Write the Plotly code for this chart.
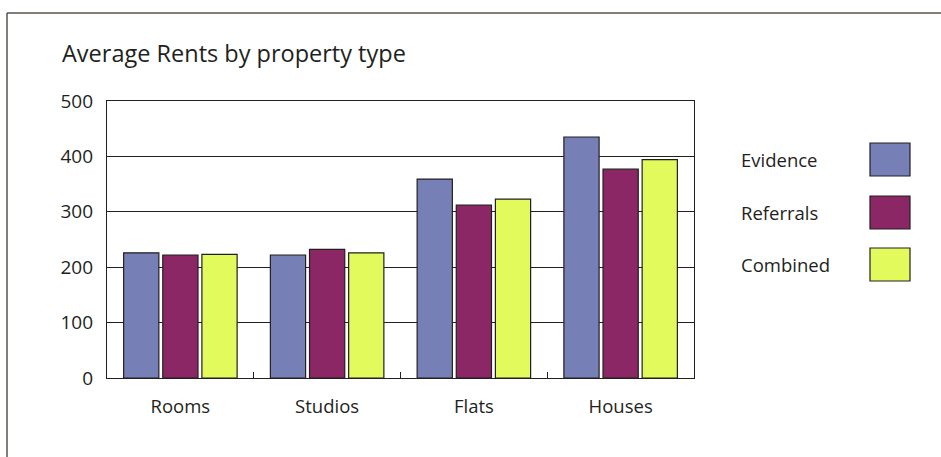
import plotly.graph_objects as go

# Average rents (per category) for each source of data
categories = ["Rooms", "Studios", "Flats", "Houses"]
evidence = [226, 222, 359, 435]
referrals = [222, 232, 312, 377]
combined = [223, 226, 323, 394]

series_names = ["Evidence", "Referrals", "Combined"]
series_values = [evidence, referrals, combined]
series_colors = ["#7680b6", "#8b2765", "#e2fa5c"]

y_ticks = [0, 100, 200, 300, 400, 500]

W, H = 941, 457
L, R, T, B = 107, 247, 101, 79
INK = "#231f20"
FONT = "Open Sans"
LABEL_SIZE = 18.5

def px_to_paper_x(px):
    return (px - L) / (W - L - R)

def px_to_paper_y(py):
    return (H - B - py) / (H - T - B)

fig = go.Figure()
for name, vals, col in zip(series_names, series_values, series_colors):
    fig.add_trace(go.Bar(
        x=categories, y=vals, name=name,
        marker=dict(color=col, line=dict(color=INK, width=1.2)),
        showlegend=False,
    ))

shapes = []
annotations = []

# Outer frame: top and left rules
shapes.append(dict(type="line", xref="paper", yref="paper",
                   x0=px_to_paper_x(7), x1=px_to_paper_x(W + 5),
                   y0=px_to_paper_y(13), y1=px_to_paper_y(13),
                   line=dict(color="#5a534c", width=1.5)))
shapes.append(dict(type="line", xref="paper", yref="paper",
                   x0=px_to_paper_x(7), x1=px_to_paper_x(7),
                   y0=px_to_paper_y(13), y1=px_to_paper_y(H + 5),
                   line=dict(color="#5a534c", width=1.5)))

# Key on the right: label text followed by a colour swatch
key_rows = [159, 212, 264]
for name, col, cy in zip(series_names, series_colors, key_rows):
    annotations.append(dict(xref="paper", yref="paper",
                            x=px_to_paper_x(739), y=px_to_paper_y(cy),
                            xanchor="left", yanchor="middle", showarrow=False,
                            text=name, font=dict(family=FONT, size=LABEL_SIZE, color=INK)))
    shapes.append(dict(type="rect", xref="paper", yref="paper",
                       x0=px_to_paper_x(870), x1=px_to_paper_x(910),
                       y0=px_to_paper_y(cy - 16), y1=px_to_paper_y(cy + 17),
                       fillcolor=col, line=dict(color=INK, width=1.2)))

fig.update_layout(
    width=W, height=H,
    margin=dict(l=L, r=R, t=T, b=B),
    paper_bgcolor="white", plot_bgcolor="white",
    barmode="group", bargap=0.2, bargroupgap=0.1,
    title=dict(text="Average Rents by property type",
               x=62 / W, xanchor="left", xref="container",
               y=1 - 54 / H, yanchor="middle", yref="container",
               font=dict(family=FONT, size=23.5, color=INK)),
    font=dict(family=FONT, size=LABEL_SIZE, color=INK),
    shapes=shapes, annotations=annotations,
)
fig.update_xaxes(
    showline=True, linecolor=INK, linewidth=1.2, mirror=True,
    ticks="inside", ticklen=6, tickcolor=INK, tickson="boundaries",
    ticklabelstandoff=12, showgrid=False,
    tickfont=dict(family=FONT, size=LABEL_SIZE, color=INK),
)
fig.update_yaxes(
    range=[0, 500], tickvals=y_ticks,
    showline=True, linecolor=INK, linewidth=1.2, mirror=True,
    showgrid=True, gridcolor=INK, gridwidth=1,
    ticks="", ticklabelstandoff=9, zeroline=False,
    tickfont=dict(family=FONT, size=19, color=INK),
)

fig.write_html("out.html")
